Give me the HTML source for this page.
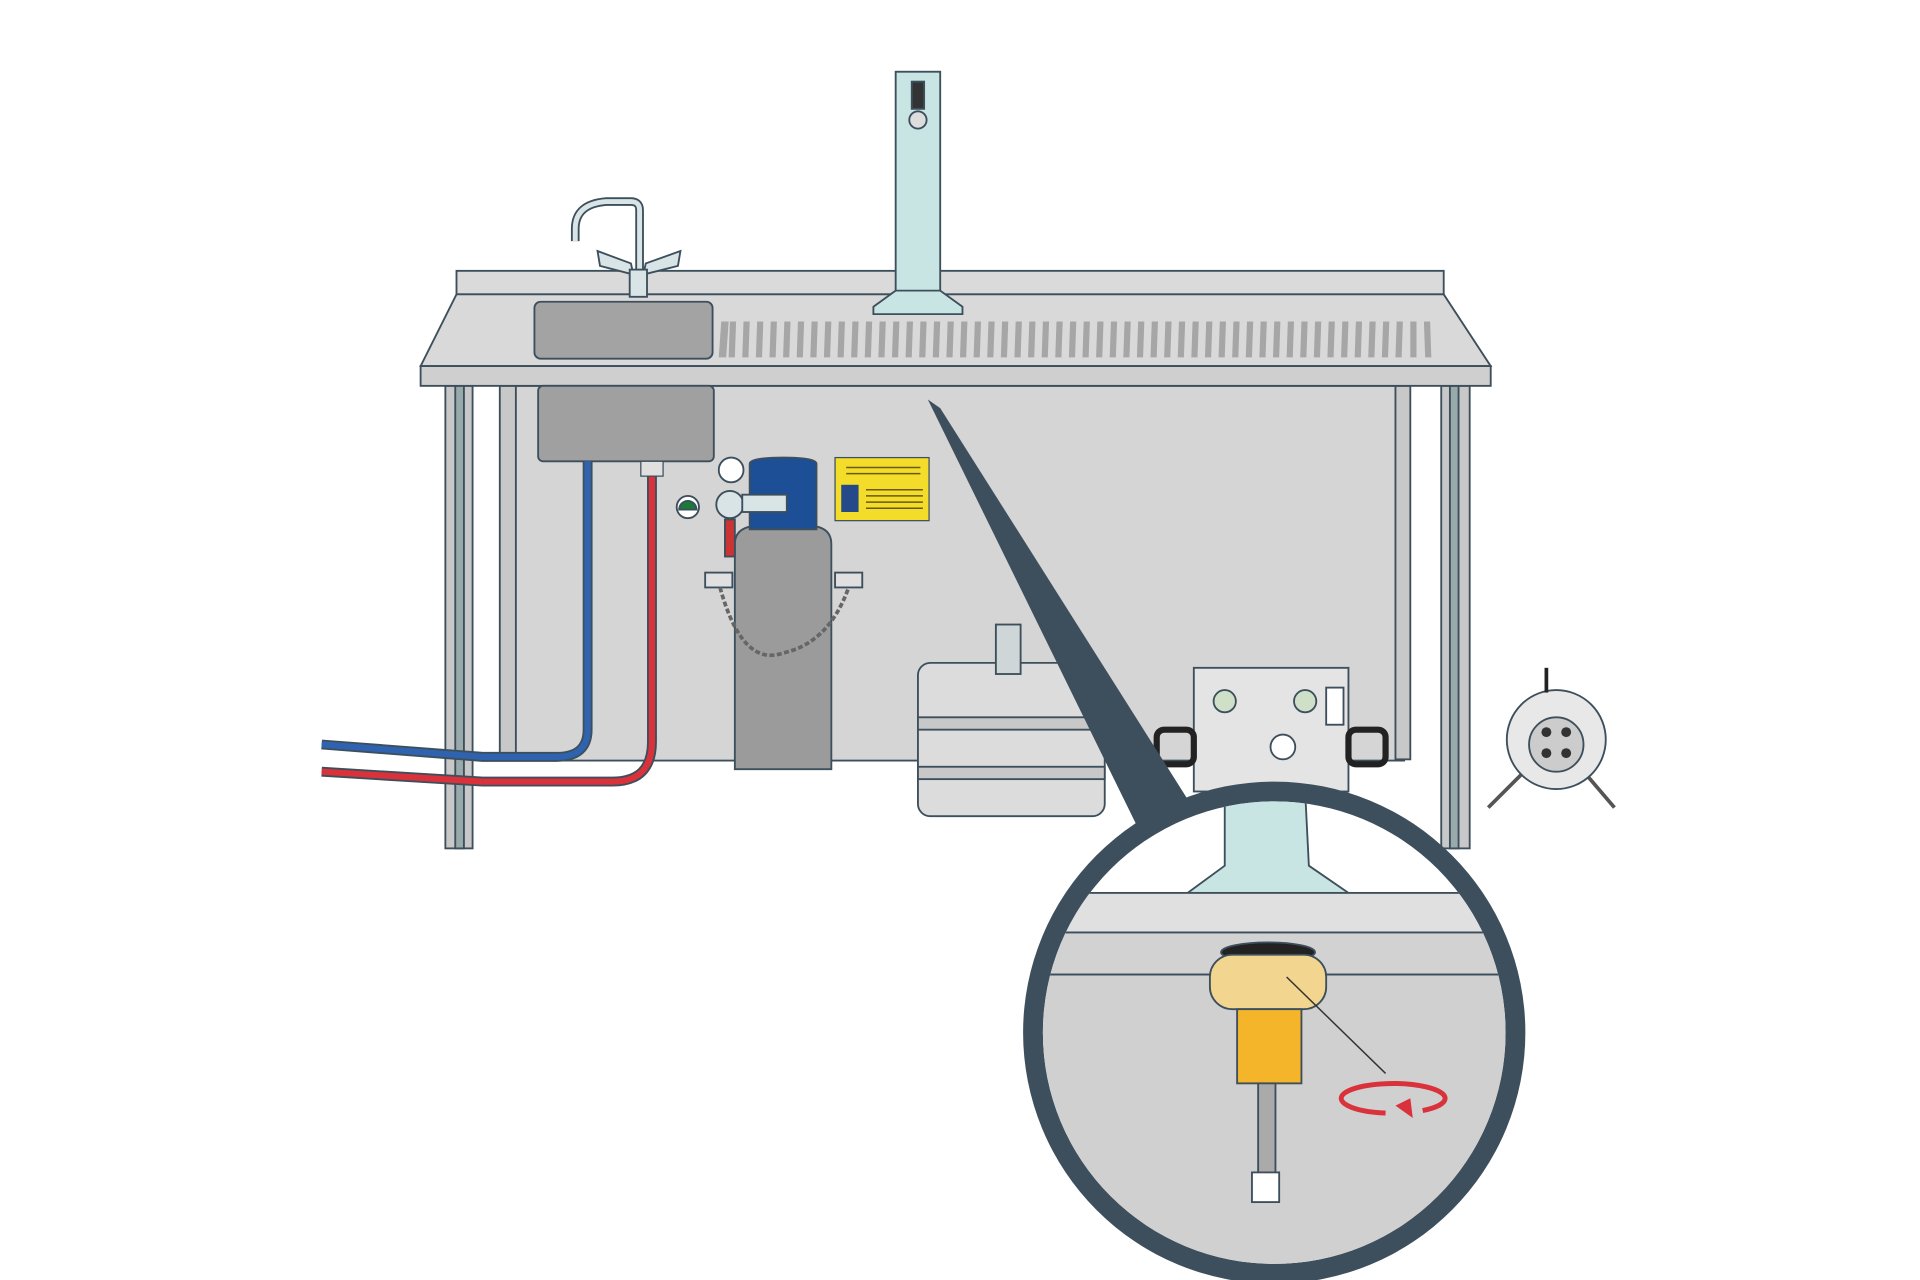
<!DOCTYPE html>
<html><head><meta charset="utf-8"><style>html,body{margin:0;padding:0;background:#fff}svg{display:block}</style></head>
<body>
<svg width="1920" height="1280" viewBox="0 0 1552 1035" preserveAspectRatio="none" xmlns="http://www.w3.org/2000/svg">
<rect width="1552" height="1035" fill="#fff"/>
<g stroke="#3d4f5c" stroke-width="1.5">
<rect x="410" y="312" width="725" height="303" fill="#d5d5d5"/>
<rect x="360" y="312" width="22" height="374" fill="#c8c8c8"/>
<rect x="368" y="312" width="7" height="374" fill="#9aa"/>
<rect x="404" y="312" width="13" height="302" fill="#c8c8c8"/>
<rect x="1128" y="312" width="12" height="302" fill="#c8c8c8"/>
<rect x="1165" y="312" width="23" height="374" fill="#c8c8c8"/>
<rect x="1172" y="312" width="7" height="374" fill="#9aa"/>
<rect x="369" y="219" width="798" height="19" fill="#dadada"/>
<polygon points="369,238 1167,238 1205,296 340,296" fill="#d9d9d9"/>
<rect x="340" y="296" width="865" height="16" fill="#cfcfcf"/>
<rect x="432" y="244" width="144" height="46" rx="5" fill="#a3a3a3"/>
<rect x="435" y="312" width="142" height="61" rx="4" fill="#a0a0a0"/>
</g>
<path d="M475,373 V590 Q475,612 450,612 H390 L260,602" fill="none" stroke="#3d4f5c" stroke-width="8"/>
<path d="M475,373 V590 Q475,612 450,612 H390 L260,602" fill="none" stroke="#2f63b0" stroke-width="5"/>
<path d="M527,385 V600 Q527,632 495,632 H390 L260,624" fill="none" stroke="#3d4f5c" stroke-width="8"/>
<path d="M527,385 V600 Q527,632 495,632 H390 L260,624" fill="none" stroke="#d9323a" stroke-width="5"/>
<rect x="518" y="373" width="18" height="12" fill="#e0e0e0" stroke="#3d4f5c"/>
<g stroke="#3d4f5c" stroke-width="1.5">
<path d="M594,440 Q594,425 615,425 H652 Q672,425 672,440 V622 H594 Z" fill="#9b9b9b"/>
<path d="M606,375 Q606,370 633,370 Q660,370 660,375 V428 H606 Z" fill="#1d4f96"/>
<circle cx="590" cy="408" r="11" fill="#d8e4e6"/>
<circle cx="591" cy="380" r="10" fill="#fff"/>
<circle cx="556" cy="410" r="9" fill="#fff"/>
<path d="M549,412 A7,7 0 0 1 563,412 Z" fill="#1a7a3a"/>
<rect x="600" y="400" width="36" height="14" fill="#d8e4e6"/>
<rect x="586" y="420" width="8" height="30" fill="#c33"/>
<rect x="570" y="463" width="22" height="12" fill="#e0e0e0"/>
<rect x="675" y="463" width="22" height="12" fill="#e0e0e0"/>
</g>
<path d="M582,475 Q600,540 633,528 Q670,520 686,475" fill="none" stroke="#666" stroke-width="3" stroke-dasharray="4 2"/>
<rect x="675" y="370" width="76" height="51" fill="#f3dd2a" stroke="#3d4f5c"/>
<rect x="680" y="392" width="14" height="22" fill="#244a8a"/>
<g stroke="#6a5a10" stroke-width="1.2"><line x1="700" y1="396" x2="746" y2="396"/><line x1="700" y1="401" x2="746" y2="401"/><line x1="700" y1="406" x2="746" y2="406"/><line x1="700" y1="411" x2="746" y2="411"/><line x1="684" y1="378" x2="744" y2="378"/><line x1="684" y1="383" x2="744" y2="383"/></g>
<g stroke="#3d4f5c" stroke-width="1.5">
<rect x="742" y="536" width="151" height="124" rx="10" fill="#dcdcdc"/>
<rect x="742" y="580" width="151" height="10" fill="#c8c8c8"/>
<rect x="742" y="620" width="151" height="10" fill="#c8c8c8"/>
<rect x="805" y="505" width="20" height="40" fill="#cfd6d8"/>
<rect x="965" y="540" width="125" height="100" fill="#e4e4e4"/>
<rect x="935" y="590" width="30" height="28" rx="6" fill="none" stroke="#222" stroke-width="5"/>
<rect x="1090" y="590" width="30" height="28" rx="6" fill="none" stroke="#222" stroke-width="5"/>
<circle cx="990" cy="567" r="9" fill="#cfe0c8"/>
<circle cx="1055" cy="567" r="9" fill="#cfe0c8"/>
<circle cx="1037" cy="604" r="10" fill="#fff"/>
<rect x="1072" y="556" width="14" height="30" fill="#fff"/>
<path d="M1203,653 L1258,598 L1305,653" fill="none" stroke="#555" stroke-width="3"/>
<circle cx="1258" cy="598" r="40" fill="#e8e8e8"/>
<circle cx="1258" cy="602" r="22" fill="#ccc"/>
<line x1="1250" y1="560" x2="1250" y2="540" stroke="#222" stroke-width="3"/>
</g>
<g fill="#333"><circle cx="1250" cy="592" r="4"/><circle cx="1266" cy="592" r="4"/><circle cx="1250" cy="609" r="4"/><circle cx="1266" cy="609" r="4"/></g>
<g stroke="#3d4f5c" stroke-width="1.5">
<rect x="724" y="58" width="36" height="180" fill="#c8e4e3"/>
<rect x="737" y="66" width="10" height="22" fill="#333"/>
<circle cx="742" cy="97" r="7" fill="#ddd"/>
<path d="M465,195 V185 Q465,165 490,163 H510 Q517,163 517,170 V225" fill="none" stroke="#3d4f5c" stroke-width="7"/>
<path d="M465,195 V185 Q465,165 490,163 H510 Q517,163 517,170 V225" fill="none" stroke="#d8e4e6" stroke-width="4"/>
<polygon points="483,203 510,213 512,222 485,215" fill="#d8e4e6"/>
<polygon points="550,203 522,213 520,222 548,215" fill="#d8e4e6"/>
<rect x="509" y="218" width="14" height="22" fill="#d8e4e6"/>
</g>
<polygon points="750,323 760,330 975,670 925,680" fill="#3d4f5c"/>
<defs><clipPath id="c"><circle cx="1030" cy="835" r="187"/></clipPath></defs>
<circle cx="1030" cy="835" r="203" fill="#3d4f5c"/>
<g clip-path="url(#c)">
<rect x="800" y="600" width="460" height="460" fill="#fff"/>
<polygon points="990,640 1055,640 1058,700 1090,722 960,722 990,700" fill="#c8e4e3" stroke="#3d4f5c" stroke-width="1.5"/>
<rect x="800" y="722" width="460" height="32" fill="#e0e0e0" stroke="#3d4f5c" stroke-width="1.5"/>
<rect x="800" y="754" width="460" height="34" fill="#d2d2d2" stroke="#3d4f5c" stroke-width="1.5"/>
<rect x="800" y="788" width="460" height="280" fill="#d0d0d0"/>
<line x1="800" y1="788" x2="1260" y2="788" stroke="#3d4f5c" stroke-width="1.5"/>
</g>
<g stroke="#3d4f5c" stroke-width="1.5">
<ellipse cx="1025" cy="770" rx="38" ry="8" fill="#222"/>
<rect x="978" y="772" width="94" height="44" rx="18" fill="#f2d58e"/>
<rect x="1000" y="816" width="52" height="60" fill="#f5b52a"/>
<rect x="1017" y="876" width="14" height="74" fill="#aaa"/>
<rect x="1012" y="948" width="22" height="24" fill="#fff"/>
</g>
<line x1="1040" y1="790" x2="1120" y2="868" stroke="#333" stroke-width="1.2"/>
<path d="M1120,900 A42,12 0 1 1 1150,898" fill="none" stroke="#d9323a" stroke-width="4"/>
<polygon points="1128,894 1140,888 1142,904" fill="#d9323a"/>
<g fill="#a6a6a6">
<path d="M583 260h6l-2 29h-6z M590 260h5l-1 29h-5z M601 260h5l-1 29h-5z M612 260h5l-1 29h-5z M623 260h5l-1 29h-5z M634 260h5l-1 29h-5z M645 260h5l-1 29h-5z M656 260h5l-1 29h-5z M667 260h5l-1 29h-5z M678 260h5l-1 29h-5z M689 260h5l-1 29h-5z M700 260h5l-1 29h-5z M711 260h5l-1 29h-5z M722 260h5l-1 29h-5z M733 260h5l-1 29h-5z M744 260h5l-1 29h-5z M755 260h5l-1 29h-5z M766 260h5l-1 29h-5z M777 260h5l-1 29h-5z M788 260h5l-1 29h-5z M799 260h5l-1 29h-5z M810 260h5l-1 29h-5z M821 260h5l-1 29h-5z M832 260h5l-1 29h-5z M843 260h5l-1 29h-5z M854 260h5l-1 29h-5z M865 260h5l-1 29h-5z M876 260h5l-1 29h-5z M887 260h5l-1 29h-5z M898 260h5l-1 29h-5z M909 260h5l-1 29h-5z M920 260h5l-1 29h-5z M931 260h5l-1 29h-5z M942 260h5l-1 29h-5z M953 260h5l-1 29h-5z M964 260h5l-1 29h-5z M975 260h5l-1 29h-5z M986 260h5l-1 29h-5z M997 260h5l-1 29h-5z M1008 260h5l-1 29h-5z M1019 260h5l-1 29h-5z M1030 260h5l-1 29h-5z M1041 260h5l-1 29h-5z M1052 260h5l-1 29h-5z M1063 260h5l-1 29h-5z M1074 260h5l-1 29h-5z M1085 260h5l-1 29h-5z M1096 260h5l-1 29h-5z M1107 260h5l-1 29h-5z M1118 260h5l-1 29h-5z M1129 260h5l-1 29h-5z M1140 260h5l0 29h-5z M1151 260h5l1 29h-5z"/>
</g>
<polygon points="724,235 760,235 778,248 778,254 706,254 706,248" fill="#c8e4e3" stroke="#3d4f5c" stroke-width="1.5"/>
</svg>
</body></html>
